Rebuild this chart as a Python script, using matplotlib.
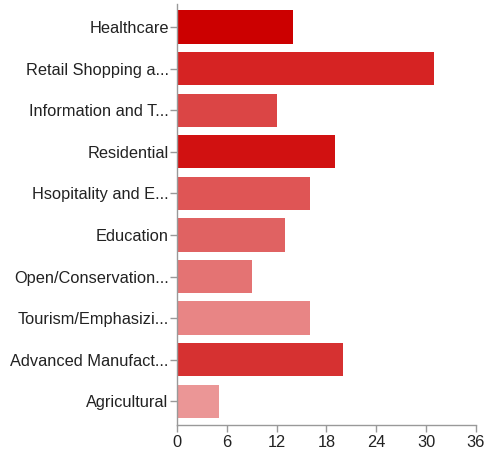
import matplotlib
matplotlib.use("Agg")
import matplotlib.pyplot as plt

categories = ["Healthcare", "Retail Shopping a...", "Information and T...", "Residential",
              "Hsopitality and E...", "Education", "Open/Conservation...",
              "Tourism/Emphasizi...", "Advanced Manufact...", "Agricultural"]
values = [14, 31, 12, 19, 16, 13, 9, 16, 20, 5]
colors = ["#cc0000", "#d62323", "#db4545", "#d11111", "#df5555", "#e06262",
          "#e47373", "#e88585", "#d63131", "#eb9696"]
xticks = [0, 6, 12, 18, 24, 30, 36]

plt.rcParams['font.family'] = ['Liberation Sans', 'DejaVu Sans']

fig = plt.figure(figsize=(4.89, 4.5), dpi=100)
ax = fig.add_axes([0.362, 0.0556, 0.611, 0.935])

y = list(range(len(categories)))
ax.barh(y, values, height=0.8, color=colors, edgecolor='none')
ax.set_yticks(y)
ax.set_yticklabels(categories, fontsize=11.8, color='#222222')
ax.set_ylim(len(categories) - 0.5 + 0.07, -0.5 - 0.05)
ax.set_xlim(0, 36)
ax.set_xticks(xticks)
ax.set_xticklabels([str(t) for t in xticks], fontsize=11.8, color='#222222')

for s in ['top', 'right']:
    ax.spines[s].set_visible(False)
for s in ['left', 'bottom']:
    ax.spines[s].set_color('#999999')
    ax.spines[s].set_linewidth(1.0)
ax.tick_params(axis='both', colors='#999999', length=5, width=1, labelcolor='#222222')
ax.tick_params(axis='y', pad=1)
ax.tick_params(axis='x', pad=2)

fig.savefig("out.png", dpi=100)
